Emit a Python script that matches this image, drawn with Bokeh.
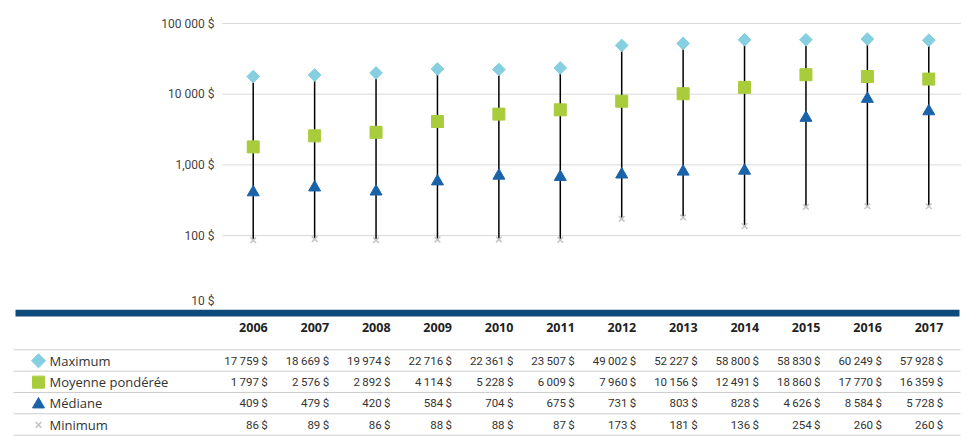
import math
from bokeh.plotting import figure
from bokeh.layouts import column
from bokeh.models import Range1d, ColumnDataSource
from bokeh.core.properties import value
from bokeh.embed import file_html
from bokeh.resources import INLINE

years = [2006, 2007, 2008, 2009, 2010, 2011, 2012, 2013, 2014, 2015, 2016, 2017]
maximum = [17759, 18669, 19974, 22716, 22361, 23507, 49002, 52227, 58800, 58830, 60249, 57928]
moyenne = [1797, 2576, 2892, 4114, 5228, 6009, 7960, 10156, 12491, 18860, 17770, 16359]
mediane = [409, 479, 420, 584, 704, 675, 731, 803, 828, 4626, 8584, 5728]
minimum = [86, 89, 86, 88, 88, 87, 173, 181, 136, 254, 260, 260]
series_names = ["Maximum", "Moyenne pondérée", "Médiane", "Minimum"]
y_ticks = [10, 100, 1000, 10000, 100000]
y_tick_labels = ["10 $", "100 $", "1,000 $", "10 000 $", "100 000 $"]

C_MAX = "#86cfe0"
C_MOY = "#a8cc3c"
C_MED = "#1b63a8"
C_MIN = "#c4c4c4"
C_BAR = "#0e4a7a"

# ---- layout constants (pixels) ----
W = 961            # figure width
CHART_L = 222      # left edge of the plotting area
H1 = 309           # chart figure height
TOP_PX = 23        # pixel row of the top tick
DECADE_PX = 70.7   # pixels per decade
H2 = 127           # table figure height

band = (W - 2 - CHART_L) / len(years)
x_lo = years[0] - 0.5
x_range = Range1d(x_lo - CHART_L / band, x_lo + (W - CHART_L) / band)
top_exp = 5 + TOP_PX / DECADE_PX
bot_exp = 5 - (H1 - TOP_PX) / DECADE_PX
y_range = Range1d(10 ** bot_exp, 10 ** top_exp)

src = ColumnDataSource(dict(year=years, mx=maximum, moy=moyenne, med=mediane, mn=minimum))

p1 = figure(x_range=x_range, y_range=y_range, y_axis_type="log",
            width=W, height=H1, min_border=0,
            x_axis_location=None, y_axis_location=None,
            output_backend="svg", toolbar_location=None)
p1.outline_line_color = None
p1.grid.visible = False

grid_ticks = y_ticks[1:]
p1.segment(x0=[x_lo] * len(grid_ticks), x1=[x_range.end] * len(grid_ticks),
           y0=grid_ticks, y1=grid_ticks, line_color="#d9d9d9", line_width=1)
tick_src = ColumnDataSource(dict(y=y_ticks, t=y_tick_labels, x=[x_lo] * len(y_ticks),
                                 dy=[-5 if t == 10 else 0 for t in y_ticks]))
p1.text(x="x", y="y", text="t", source=tick_src, x_offset=-8, y_offset="dy",
        text_align="right", text_baseline="middle",
        text_font=value("Roboto"), text_font_size="12px", text_color="#444444")

p1.segment(x0="year", y0="mn", x1="year", y1="mx", source=src, line_color="black", line_width=1.5)
p1.scatter(x="year", y="mn", source=src, marker="x", size=8, line_color=C_MIN, line_width=1.5)
p1.scatter(x="year", y="med", source=src, marker="triangle", size=12, fill_color=C_MED, line_color=C_MED)
p1.scatter(x="year", y="moy", source=src, marker="square", size=12, fill_color=C_MOY, line_color=C_MOY)
p1.scatter(x="year", y="mx", source=src, marker="square", angle=math.pi / 4, size=9,
           fill_color=C_MAX, line_color=C_MAX)

# ---- table ----
p2 = figure(x_range=x_range, y_range=Range1d(H2, 0), width=W, height=H2, min_border=0,
            x_axis_location=None, y_axis_location=None,
            output_backend="svg", toolbar_location=None)
p2.extra_x_ranges = {"px": Range1d(0, W)}
p2.outline_line_color = None
p2.grid.visible = False

p2.quad(left=15, right=W - 2, top=0, bottom=7, fill_color=C_BAR, line_color=None, x_range_name="px")

p2.text(x=years, y=[18] * len(years), text=[str(y) for y in years], x_offset=14.5,
        text_align="right", text_baseline="middle",
        text_font=value("Open Sans"), text_font_style="bold", text_font_size="12.5px",
        text_color="#222222")

row_h = 21.33
sep_y = [40.3 + k * row_h for k in range(5)]
p2.segment(x0=[13] * 5, x1=[W - 1] * 5, y0=sep_y, y1=sep_y, line_color="#cccccc",
           line_width=1, x_range_name="px")

def fmt(v):
    return f"{v:,}".replace(",", "\u2009") + "\u2009$"

rows = [maximum, moyenne, mediane, minimum]
row_y = [51.3 + k * row_h for k in range(4)]
for k, vals in enumerate(rows):
    p2.text(x=years, y=[row_y[k]] * len(vals), text=[fmt(v) for v in vals], x_offset=14.5,
            text_align="right", text_baseline="middle",
            text_font=value("Roboto"), text_font_size="11.5px", text_color="#333333")

p2.text(x=[49] * 4, y=row_y, text=series_names, text_align="left", text_baseline="middle",
        text_font=value("Open Sans"), text_font_size="13px", text_color="#333333",
        x_range_name="px")

mk_x = 38
p2.scatter(x=[mk_x], y=[row_y[0]], marker="square", angle=math.pi / 4, size=10,
           fill_color=C_MAX, line_color=C_MAX, x_range_name="px")
p2.scatter(x=[mk_x], y=[row_y[1]], marker="square", size=12, fill_color=C_MOY,
           line_color=C_MOY, x_range_name="px")
p2.scatter(x=[mk_x], y=[row_y[2] + 1], marker="triangle", size=12, fill_color=C_MED,
           line_color=C_MED, x_range_name="px")
p2.scatter(x=[mk_x], y=[row_y[3]], marker="x", size=8, line_color=C_MIN, line_width=1.5,
           x_range_name="px")

layout = column(p1, p2, spacing=0)
open("out.html", "w").write(file_html(layout, INLINE))
